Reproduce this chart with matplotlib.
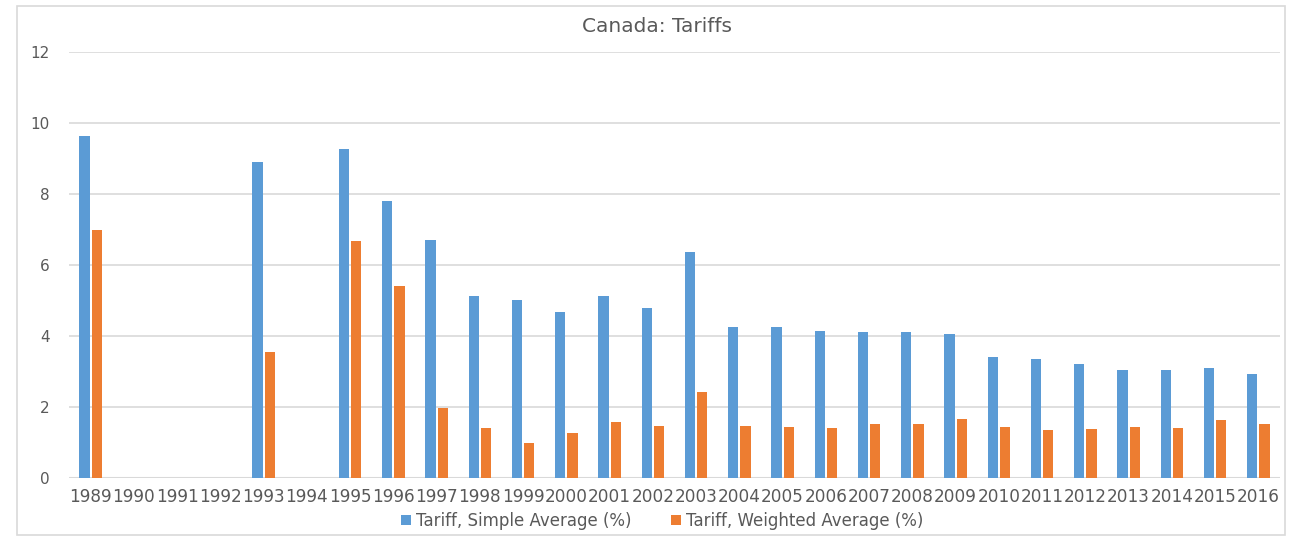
import numpy as np
import matplotlib.pyplot as plt
from matplotlib.patches import Rectangle

# --- data ---
years = [str(y) for y in range(1989, 2017)]
simple_avg = [9.63, np.nan, np.nan, np.nan, 8.90, np.nan, 9.27, 7.80, 6.70, 5.13,
              5.01, 4.68, 5.13, 4.79, 6.37, 4.25, 4.26, 4.14, 4.11, 4.11,
              4.05, 3.40, 3.35, 3.21, 3.04, 3.03, 3.11, 2.93]
weighted_avg = [7.00, np.nan, np.nan, np.nan, 3.55, np.nan, 6.68, 5.41, 1.97, 1.41,
                0.99, 1.27, 1.58, 1.46, 2.42, 1.47, 1.43, 1.42, 1.52, 1.52,
                1.67, 1.44, 1.35, 1.37, 1.43, 1.40, 1.63, 1.53]
y_ticks = [0, 2, 4, 6, 8, 10, 12]

BLUE = '#5B9BD5'
ORANGE = '#ED7D31'
TXT = '#595959'
GRID = '#d9d9d9'

fig = plt.figure(figsize=(12.89, 5.38), dpi=100)
fig.patch.set_facecolor('white')

# outer chart frame
fig.patches.append(Rectangle((17 / 1289, 3 / 538), 1268 / 1289, 529 / 538,
                             transform=fig.transFigure, fill=False,
                             edgecolor=GRID, linewidth=1.2))

ax = fig.add_axes([69 / 1289, 60 / 538, 1211 / 1289, 426 / 538])

x = np.arange(len(years))
w = 0.235
ax.bar(x - 0.14, simple_avg, width=w, color=BLUE, label='Tariff, Simple Average (%)')
ax.bar(x + 0.14, weighted_avg, width=w, color=ORANGE, label='Tariff, Weighted Average (%)')

ax.set_xlim(-0.5, len(years) - 0.5)
ax.set_ylim(0, 12)
ax.set_yticks(y_ticks)
ax.set_xticks(x)
ax.set_xticklabels(years)
ax.yaxis.grid(True, color=GRID, linewidth=1.2)
ax.set_axisbelow(True)
for s in ax.spines.values():
    s.set_visible(False)
ax.axhline(0, color=GRID, linewidth=1.5, zorder=0)
ax.tick_params(axis='both', length=0, colors=TXT)
ax.tick_params(axis='y', pad=14, labelsize=11)
ax.tick_params(axis='x', pad=7, labelsize=12.2)

fig.text(657 / 1289, 1 - 27 / 538, 'Canada: Tariffs', ha='center', va='center',
         fontsize=14.5, color=TXT)

fig.legend(loc='center', bbox_to_anchor=(662 / 1289, 1 - 521 / 538), ncol=2,
           frameon=False, fontsize=12, labelcolor=TXT, handlelength=0.6,
           handleheight=0.6, handletextpad=0.3, columnspacing=2.4)

plt.savefig('out.png', dpi=100)
